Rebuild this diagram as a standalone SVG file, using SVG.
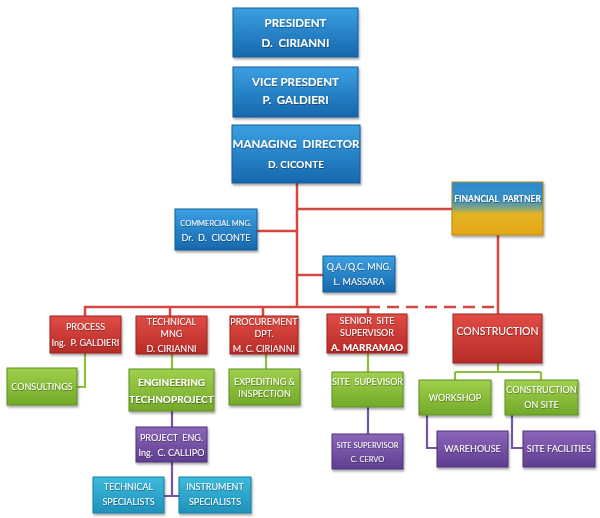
<svg xmlns="http://www.w3.org/2000/svg" width="600" height="518" viewBox="0 0 600 518">
<defs>
<linearGradient id="gBlue" x1="0" y1="0" x2="0" y2="1"><stop offset="0" stop-color="#3aa0e2"/><stop offset="1" stop-color="#1767ad"/></linearGradient>
<linearGradient id="gRed" x1="0" y1="0" x2="0" y2="1"><stop offset="0" stop-color="#e14c45"/><stop offset="1" stop-color="#b72b27"/></linearGradient>
<linearGradient id="gGreen" x1="0" y1="0" x2="0" y2="1"><stop offset="0" stop-color="#9fd04c"/><stop offset="1" stop-color="#73a92a"/></linearGradient>
<linearGradient id="gPurple" x1="0" y1="0" x2="0" y2="1"><stop offset="0" stop-color="#8b66ba"/><stop offset="1" stop-color="#5f3e90"/></linearGradient>
<linearGradient id="gCyan" x1="0" y1="0" x2="0" y2="1"><stop offset="0" stop-color="#3cbbdc"/><stop offset="1" stop-color="#1f91ba"/></linearGradient>
<linearGradient id="gFin" x1="0" y1="0" x2="0" y2="1"><stop offset="0" stop-color="#2a8bd0"/><stop offset="0.35" stop-color="#3b8fc0"/><stop offset="0.5" stop-color="#8aa67a"/><stop offset="0.6" stop-color="#e2b424"/><stop offset="1" stop-color="#e6a616"/></linearGradient>
<filter id="sh" x="-10%" y="-10%" width="125%" height="135%"><feDropShadow dx="1" dy="2" stdDeviation="1.3" flood-color="#000" flood-opacity="0.35"/></filter>
<filter id="ts" x="-5%" y="-20%" width="110%" height="150%"><feDropShadow dx="0.5" dy="0.8" stdDeviation="0.4" flood-color="#000" flood-opacity="0.45"/></filter>
</defs>
<style>
.b{filter:url(#sh)}
.blue{fill:url(#gBlue);stroke:#1a5a95;stroke-width:1}
.red{fill:url(#gRed);stroke:#9a2420;stroke-width:1}
.green{fill:url(#gGreen);stroke:#5f8f22;stroke-width:1}
.purple{fill:url(#gPurple);stroke:#4e3278;stroke-width:1}
.cyan{fill:url(#gCyan);stroke:#1a7fa3;stroke-width:1}
.fin{fill:url(#gFin);stroke:#b38712;stroke-width:1}
text{font-family:Lato,"Liberation Sans",sans-serif;fill:#fff;text-anchor:middle;filter:url(#ts);white-space:pre}
.t1{font-size:11.5px;font-weight:bold}
.t2{font-size:9px}
.t3{font-size:8.5px}
.tb{font-size:10px;font-weight:bold}
.cr{stroke:#d2473f;stroke-width:2.5;fill:none}
.cg{stroke:#8cbf3e;stroke-width:2.2;fill:none}
.cp{stroke:#7652a8;stroke-width:2.2;fill:none}
</style>
<g id="connectors">
<path class="cr" d="M297 183V307M297 209H452M297 231H257M297 275H323M85 316V307H368M170 307V316M263 307V316M368 307V314"/>
<path class="cr" d="M498 235V314"/>
<path class="cr" d="M368 307H498" stroke-dasharray="12,7"/>
<path class="cg" d="M85 353V387H77M172 354V369M266 354V369M368 353V372M498 363V372M455 372H541M455 372V380M541 372V380"/>
<path class="cp" d="M172 411V427M172 462V496M164 496H179M368 407V434M427 415V448H437M512 415V448H523"/>
</g>
<g id="president"><rect class="b blue" x="233" y="8" width="125" height="49"/><text class="t1" x="295.5" y="27">PRESIDENT</text><text class="t1" x="295.5" y="47">D.  CIRIANNI</text></g>
<g id="vicepresident"><rect class="b blue" x="233" y="67" width="125" height="50"/><text class="t1" x="295.5" y="86">VICE PRESDENT</text><text class="t1" x="295.5" y="104">P.  GALDIERI</text></g>
<g id="managingdirector"><rect class="b blue" x="232" y="125" width="128" height="58"/><text class="t1" x="296" y="148">MANAGING  DIRECTOR</text><text class="tb" x="296" y="168">D. CICONTE</text></g>
<g id="financialpartner"><rect class="b fin" x="452" y="182" width="91" height="53"/><text class="t3" x="497.5" y="202" font-weight="bold">FINANCIAL  PARTNER</text></g>
<g id="commercial"><rect class="b blue" x="175" y="209" width="82" height="41"/><text x="216" y="225.5" font-size="7.5">COMMERCIAL MNG.</text><text class="t2" x="216" y="240.5">Dr.  D.  CICONTE</text></g>
<g id="qa"><rect class="b blue" x="323" y="256" width="72" height="36"/><text class="t2" x="359" y="270">Q.A./Q.C. MNG.</text><text class="t2" x="359" y="285">L. MASSARA</text></g>
<g id="process"><rect class="b red" x="50" y="316" width="71" height="37"/><text class="t2" x="85.5" y="330">PROCESS</text><text class="t2" x="85.5" y="346">Ing.  P. GALDIERI</text></g>
<g id="technical"><rect class="b red" x="136" y="316" width="71" height="38"/><text class="t2" x="171.5" y="325">TECHNICAL</text><text class="t2" x="171.5" y="336.5">MNG</text><text class="t2" x="171.5" y="352">D. CIRIANNI</text></g>
<g id="procurement"><rect class="b red" x="230" y="316" width="68" height="38"/><text class="t2" x="264" y="325">PROCUREMENT</text><text class="t2" x="264" y="336.5">DPT.</text><text class="t2" x="264" y="352">M. C. CIRIANNI</text></g>
<g id="seniorsite"><rect class="b red" x="327" y="314" width="80" height="39"/><text class="t2" x="367" y="324">SENIOR  SITE</text><text class="t2" x="367" y="335.5">SUPERVISOR</text><text class="tb" x="367" y="350.5">A. MARRAMAO</text></g>
<g id="construction"><rect class="b red" x="453" y="314" width="89" height="49"/><text x="497.5" y="334.5" font-size="10.5">CONSTRUCTION</text></g>
<g id="consultings"><rect class="b green" x="7" y="368" width="70" height="37"/><text class="t2" x="42" y="389.5">CONSULTINGS</text></g>
<g id="engineering"><rect class="b green" x="129" y="369" width="85" height="42"/><text class="tb" x="171.5" y="385.5">ENGINEERING</text><text class="tb" x="171.5" y="402.5">TECHNOPROJECT</text></g>
<g id="expediting"><rect class="b green" x="229" y="369" width="71" height="36"/><text class="t2" x="264.5" y="385">EXPEDITING &amp;</text><text class="t2" x="264.5" y="396.5">INSPECTION</text></g>
<g id="sitesupevisor"><rect class="b green" x="332" y="372" width="71" height="35"/><text class="t2" x="367.5" y="385">SITE  SUPEVISOR</text></g>
<g id="workshop"><rect class="b green" x="419" y="380" width="72" height="35"/><text class="t2" x="455" y="401">WORKSHOP</text></g>
<g id="constructiononsite"><rect class="b green" x="505" y="380" width="73" height="35"/><text class="t2" x="541.5" y="393">CONSTRUCTION</text><text class="t2" x="541.5" y="408">ON SITE</text></g>
<g id="projecteng"><rect class="b purple" x="136" y="427" width="71" height="35"/><text class="t2" x="171.5" y="440.5">PROJECT  ENG.</text><text class="t2" x="171.5" y="455.5">Ing.  C. CALLIPO</text></g>
<g id="sitesupervisor2"><rect class="b purple" x="332" y="434" width="71" height="35"/><text x="367.5" y="447.5" font-size="7.5">SITE SUPERVISOR</text><text x="367.5" y="462" font-size="7.5">C. CERVO</text></g>
<g id="warehouse"><rect class="b purple" x="437" y="431" width="71" height="36"/><text class="t2" x="472.5" y="452">WAREHOUSE</text></g>
<g id="sitefacilities"><rect class="b purple" x="523" y="431" width="72" height="36"/><text class="t2" x="559" y="452">SITE FACILITIES</text></g>
<g id="technicalspecialists"><rect class="b cyan" x="93" y="477" width="71" height="36"/><text class="t2" x="128.5" y="490">TECHNICAL</text><text class="t2" x="128.5" y="505">SPECIALISTS</text></g>
<g id="instrumentspecialists"><rect class="b cyan" x="179" y="477" width="72" height="36"/><text class="t2" x="215" y="490">INSTRUMENT</text><text class="t2" x="215" y="505">SPECIALISTS</text></g>
</svg>
